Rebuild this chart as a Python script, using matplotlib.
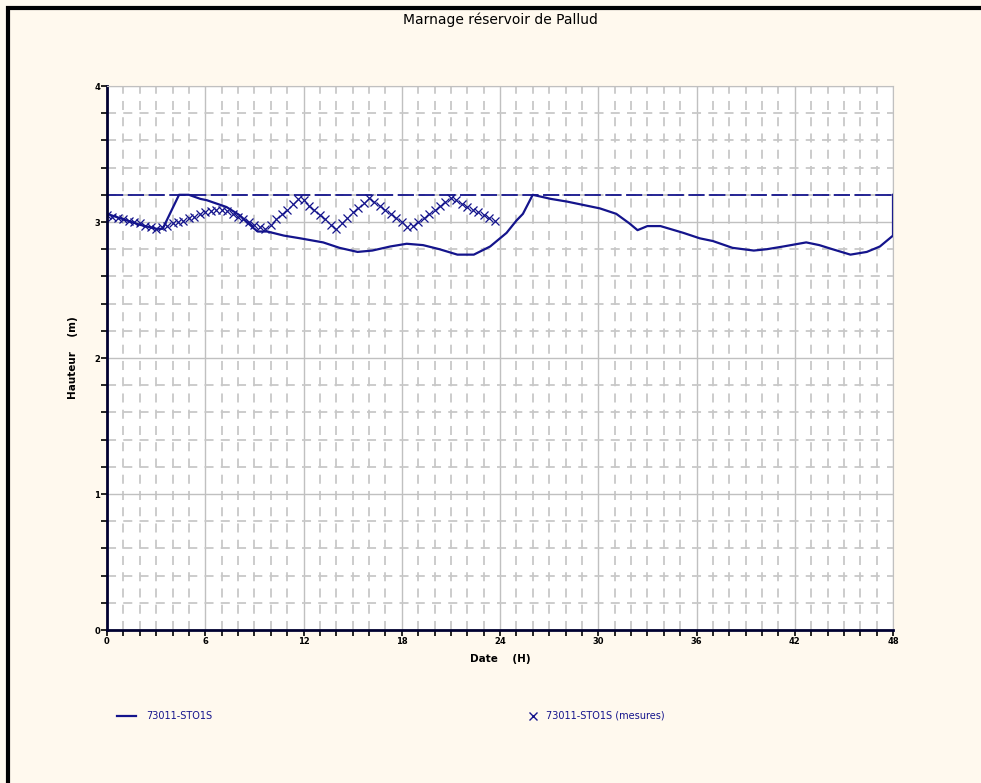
import numpy as np
import matplotlib
matplotlib.use("Agg")
import matplotlib.pyplot as plt
from matplotlib.lines import Line2D
from matplotlib.patches import Rectangle
from matplotlib.ticker import MultipleLocator

# Simulated level (hours, metres)
sim_t = [0, 1, 2, 3, 3.4, 4.4, 5.0, 5.7, 6.1, 7.3, 8.1, 8.9, 9.2, 9.8, 10.8, 11.8,
         13.2, 14.2, 15.3, 16.2, 17.3, 18.3, 19.3, 20.3, 21.4, 22.4, 23.4, 24.0,
         24.4, 25.0, 25.4, 26.0, 27.1, 28.1, 30.1, 31.1, 31.9, 32.4, 33.0, 33.8,
         35.2, 36.2, 37.0, 38.2, 39.5, 40.3, 41.3, 42.7, 43.5, 44.3, 45.4, 46.4,
         47.2, 48.0, 48.0]
sim_h = [3.06, 3.02, 2.98, 2.95, 2.95, 3.20, 3.20, 3.17, 3.16, 3.11, 3.05, 2.96,
         2.93, 2.93, 2.90, 2.88, 2.85, 2.81, 2.78, 2.79, 2.82, 2.84, 2.83, 2.80,
         2.76, 2.76, 2.82, 2.88, 2.92, 3.01, 3.06, 3.20, 3.17, 3.15, 3.10, 3.06,
         2.99, 2.94, 2.97, 2.97, 2.92, 2.88, 2.86, 2.81, 2.79, 2.80, 2.82, 2.85,
         2.83, 2.80, 2.76, 2.78, 2.82, 2.90, 3.20]

# Measured level, one reading every 20 minutes from 0 h
mes_h = [3.05, 3.04, 3.03, 3.02, 3.01, 3.00, 2.99, 2.97, 2.96, 2.95,
         2.96, 2.97, 2.99, 3.00, 3.01, 3.03, 3.04, 3.06, 3.07, 3.08,
         3.09, 3.09, 3.08, 3.06, 3.04, 3.02, 3.00, 2.98, 2.96, 2.95,
         2.98, 3.02, 3.06, 3.09, 3.13, 3.17, 3.16, 3.12, 3.09, 3.05,
         3.02, 2.98, 2.95, 2.99, 3.03, 3.07, 3.10, 3.14, 3.18, 3.15,
         3.12, 3.09, 3.06, 3.03, 3.00, 2.96, 2.97, 3.00, 3.03, 3.06,
         3.09, 3.12, 3.15, 3.18, 3.16, 3.13, 3.11, 3.09, 3.07, 3.05,
         3.03, 3.01]
mes_t = np.arange(len(mes_h)) / 3

max_level = 3.2
navy = "#14148c"
bg = "#fff9ee"

fig = plt.figure(figsize=(9.81, 7.83), dpi=100, facecolor=bg)
ax = fig.add_axes([107/981, 1 - 630/783, 786/981, 544/783])
ax.set_facecolor("white")

# grid
ax.xaxis.set_major_locator(MultipleLocator(6))
ax.xaxis.set_minor_locator(MultipleLocator(1))
ax.yaxis.set_major_locator(MultipleLocator(1))
ax.yaxis.set_minor_locator(MultipleLocator(0.2))
ax.grid(which="minor", color="#c8c8c8", linestyle=(0, (5, 4)), linewidth=1.3)
ax.grid(which="major", color="#c0c0c0", linestyle="-", linewidth=1.0)
ax.set_axisbelow(True)

ax.plot(sim_t, sim_h, color=navy, linewidth=1.6)
ax.plot(mes_t, mes_h, linestyle="none", marker="x", color=navy, markersize=5.5, markeredgewidth=0.9)
ax.plot([0, 48], [max_level, max_level], color=navy, linewidth=1.3, linestyle=(0, (9, 2.5)))

ax.set_xlim(0, 48)
ax.set_ylim(0, 4)

for s in ["top", "right"]:
    ax.spines[s].set_color("#c0c0c0")
for s in ["left", "bottom"]:
    ax.spines[s].set_color("#000030")
    ax.spines[s].set_linewidth(2)

ax.tick_params(which="both", direction="out", color="black", labelsize=6, pad=1)
ax.tick_params(which="major", length=4, width=1.2)
ax.tick_params(which="minor", length=4, width=1.2)
for lab in ax.get_xticklabels() + ax.get_yticklabels():
    lab.set_fontweight("bold")

ax.set_xlabel("Date    (H)", fontsize=7.5, fontweight="bold", labelpad=6)
ax.set_ylabel("Hauteur    (m)", fontsize=7.5, fontweight="bold", labelpad=12)

fig.text(0.51, 1 - 20/783, "Marnage réservoir de Pallud", ha="center", va="center", fontsize=10)

# frame
fig.add_artist(Rectangle((7.5/981, -0.1), 1.2, 1.1 - 7.5/783, transform=fig.transFigure,
                         fill=False, edgecolor="black", linewidth=3))

# legend
ly = 1 - 716/783
fig.add_artist(Line2D([117/981, 136/981], [ly, ly], color=navy, linewidth=1.6, transform=fig.transFigure))
fig.text(146/981, ly, "73011-STO1S", color=navy, fontsize=7, va="center")
fig.add_artist(Line2D([533/981], [ly], color=navy, marker="x", markersize=6, linestyle="none",
                      markeredgewidth=1.0, transform=fig.transFigure))
fig.text(546/981, ly, "73011-STO1S (mesures)", color=navy, fontsize=7, va="center")

fig.savefig("out.png", dpi=100, facecolor=bg)
